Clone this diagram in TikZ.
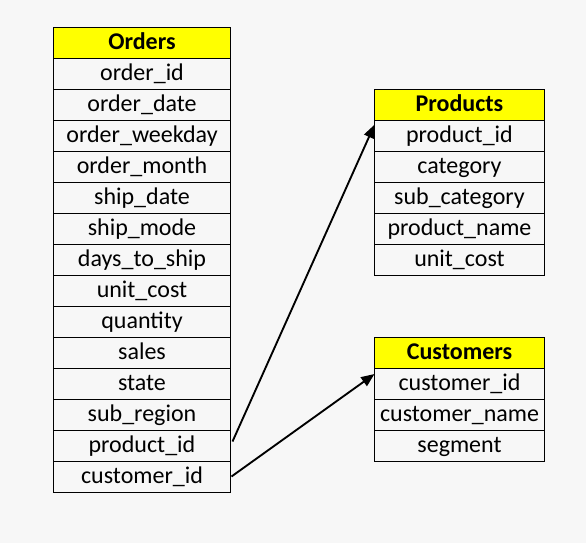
\documentclass[tikz,border=0pt]{standalone}
\usepackage{fontspec}
\setmainfont{Carlito}
\usetikzlibrary{arrows.meta,positioning}
\definecolor{bgcol}{HTML}{F7F7F7}
\definecolor{headcol}{HTML}{FFFF00}
\begin{document}
\begin{tikzpicture}[
		x=0.75pt, y=-0.75pt,
		every node/.style={draw, line width=0.75pt, inner sep=0pt, outer sep=0pt, font=\fontsize{18}{20}\selectfont},
		cell/.style={anchor=north west, minimum height=23.25pt, text height=12pt, text depth=1.5pt, fill=bgcol},
		head/.style={cell, fill=headcol, font=\fontsize{18}{20}\selectfont\bfseries},
		link/.style={-{Triangle[length=10pt,width=8pt]}, line width=1.4pt},
	]
	\fill[bgcol] (0,0) rectangle (586,543);
	\useasboundingbox (0,0) rectangle (586,543);

	% Orders
	\node[head, minimum width=132.75pt] (o0) at (53.5,27) {Orders};
	\foreach \name [count=\i from 1, evaluate=\i as \j using int(\i-1)] in
		{order\_id, order\_date, order\_weekday, order\_month, ship\_date, ship\_mode,
		 days\_to\_ship, unit\_cost, quantity, sales, state, sub\_region, product\_id, customer\_id}
		\node[cell, minimum width=132.75pt] (o\i) at (o\j.south west) {\name};

	% Products
	\node[head, minimum width=127.5pt] (p0) at (374.5,89) {Products};
	\foreach \name [count=\i from 1, evaluate=\i as \j using int(\i-1)] in
		{product\_id, category, sub\_category, product\_name, unit\_cost}
		\node[cell, minimum width=127.5pt] (p\i) at (p\j.south west) {\name};

	% Customers
	\node[head, minimum width=127.5pt] (c0) at (374.5,337) {Customers};
	\foreach \name [count=\i from 1, evaluate=\i as \j using int(\i-1)] in
		{customer\_id, customer\_name, segment}
		\node[cell, minimum width=127.5pt] (c\i) at (c\j.south west) {\name};

	\draw[link] ([xshift=1.5pt, yshift=3pt]o13.east) -- ([yshift=-3.5pt]p1.north west);
	\draw[link] ([xshift=0.75pt]o14.east) -- ([yshift=-4.5pt]c1.north west);
\end{tikzpicture}
\end{document}
